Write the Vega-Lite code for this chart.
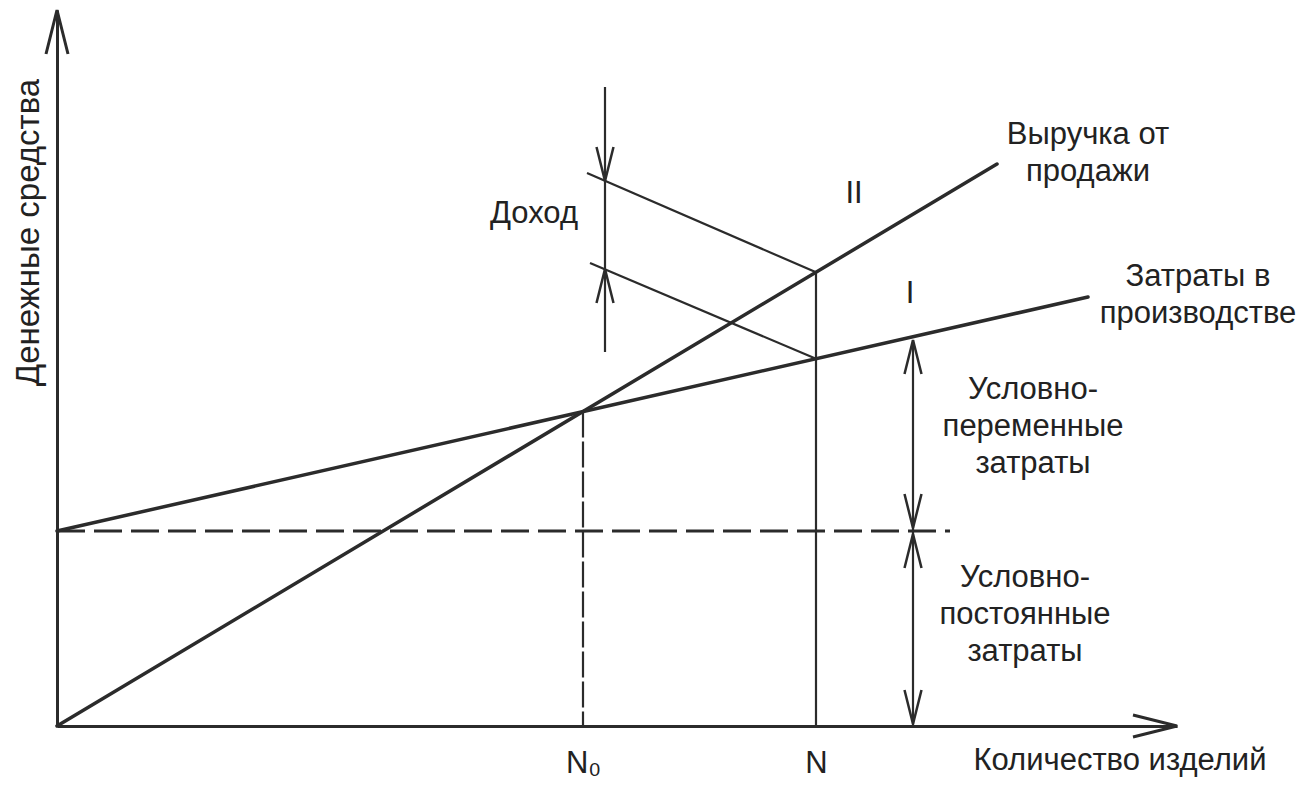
{
  "$schema": "https://vega.github.io/schema/vega-lite/v6.json",
  "width": 1120,
  "height": 716,
  "autosize": {"type": "none"},
  "padding": {"left": 57, "top": 10, "right": 139, "bottom": 61},
  "background": "white",
  "config": {"view": {"stroke": null}, "font": "Liberation Sans"},
  "datasets": {
    "segments": [
      {"line": "revenue", "x": 0, "y": 0, "x2": 94.0, "y2": 56.2},
      {"line": "cost", "x": 0, "y": 19.5, "x2": 103.1, "y2": 42.9},
      {"line": "fixed", "x": 0, "y": 19.5, "x2": 89.3, "y2": 19.5},
      {"line": "n0", "x": 52.6, "y": 31.44, "x2": 52.6, "y2": 0},
      {"line": "n", "x": 75.9, "y": 45.37, "x2": 75.9, "y2": 0},
      {"line": "lead1", "x": 53.0, "y": 55.3, "x2": 75.9, "y2": 45.37},
      {"line": "lead2", "x": 53.3, "y": 46.3, "x2": 75.9, "y2": 36.73},
      {"line": "income", "x": 54.8, "y": 63.9, "x2": 54.8, "y2": 37.4},
      {"line": "dim", "x": 85.6, "y": 38.6, "x2": 85.6, "y2": 0}
    ],
    "arrows": [
      {"role": "axis", "x": 0, "y": 71.6, "dir": "up"},
      {"role": "axis", "x": 112, "y": 0, "dir": "right"},
      {"role": "dim", "x": 54.8, "y": 54.5, "dir": "down"},
      {"role": "dim", "x": 54.8, "y": 45.7, "dir": "up"},
      {"role": "dim", "x": 85.6, "y": 38.6, "dir": "up"},
      {"role": "dim", "x": 85.6, "y": 19.8, "dir": "down"},
      {"role": "dim", "x": 85.6, "y": 19.2, "dir": "up"},
      {"role": "dim", "x": 85.6, "y": 0.2, "dir": "down"}
    ],
    "labels": [
      {"x": 103.1, "y": 59.1, "text": "Выручка от\nпродажи"},
      {"x": 114.1, "y": 44.9, "text": "Затраты в\nпроизводстве"},
      {"x": 47.7, "y": 51.2, "text": "Доход"},
      {"x": 79.7, "y": 53.2, "text": "II"},
      {"x": 85.3, "y": 43.2, "text": "I"},
      {"x": 97.6, "y": 33.6, "text": "Условно-\nпеременные\nзатраты"},
      {"x": 96.8, "y": 14.8, "text": "Условно-\nпостоянные\nзатраты"}
    ]
  },
  "encoding": {
    "x": {
      "field": "x",
      "type": "quantitative",
      "scale": {"domain": [0, 112], "nice": false, "zero": false},
      "axis": {
        "title": "Количество изделий",
        "values": [52.6, 75.9],
        "labelExpr": "datum.value < 60 ? 'N₀' : 'N'",
        "grid": false,
        "ticks": false,
        "tickSize": 0,
        "labelPadding": 22,
        "labelFontSize": 31,
        "labelColor": "#222222",
        "labelFlush": false,
        "labelOverlap": false,
        "domainColor": "#2b2b2b",
        "domainWidth": 3,
        "titleFontSize": 31,
        "titleFontWeight": "normal",
        "titleColor": "#222222",
        "titleX": 916,
        "titleY": 34,
        "titleAlign": "left",
        "titleBaseline": "middle"
      }
    },
    "y": {
      "field": "y",
      "type": "quantitative",
      "scale": {"domain": [0, 71.6], "nice": false, "zero": false},
      "axis": {
        "title": "Денежные средства",
        "labels": false,
        "ticks": false,
        "tickSize": 0,
        "grid": false,
        "domainColor": "#2b2b2b",
        "domainWidth": 3,
        "titleFontSize": 33,
        "titleFontWeight": "normal",
        "titleColor": "#222222",
        "titleX": -29,
        "titleY": 222,
        "titleAngle": 270,
        "titleAlign": "center",
        "titleBaseline": "middle"
      }
    }
  },
  "layer": [
    {
      "data": {"name": "segments"},
      "transform": [{"filter": {"field": "line", "oneOf": ["revenue", "cost"]}}],
      "mark": {"type": "rule", "stroke": "#2b2b2b", "strokeWidth": 3.5, "strokeCap": "round"},
      "encoding": {"x2": {"field": "x2"}, "y2": {"field": "y2"}}
    },
    {
      "data": {"name": "segments"},
      "transform": [{"filter": {"field": "line", "equal": "fixed"}}],
      "mark": {"type": "rule", "stroke": "#2b2b2b", "strokeWidth": 3, "strokeDash": [28, 9]},
      "encoding": {"x2": {"field": "x2"}, "y2": {"field": "y2"}}
    },
    {
      "data": {"name": "segments"},
      "transform": [{"filter": {"field": "line", "equal": "n0"}}],
      "mark": {"type": "rule", "stroke": "#2b2b2b", "strokeWidth": 2.2, "strokeDash": [26, 4]},
      "encoding": {"x2": {"field": "x2"}, "y2": {"field": "y2"}}
    },
    {
      "data": {"name": "segments"},
      "transform": [{"filter": {"field": "line", "oneOf": ["n", "lead1", "lead2", "income", "dim"]}}],
      "mark": {"type": "rule", "stroke": "#2b2b2b", "strokeWidth": 2.2},
      "encoding": {"x2": {"field": "x2"}, "y2": {"field": "y2"}}
    },
    {
      "data": {"name": "arrows"},
      "transform": [{"filter": {"field": "role", "equal": "axis"}}],
      "mark": {"type": "point", "filled": false, "stroke": "#2b2b2b", "strokeWidth": 3, "opacity": 1, "size": 7744},
      "encoding": {
        "shape": {
          "field": "dir",
          "type": "nominal",
          "scale": {
            "domain": ["up", "down", "right"],
            "range": ["M-0.25,1L0,0L0.25,1", "M-0.25,-1L0,0L0.25,-1", "M-1,-0.25L0,0L-1,0.25"]
          },
          "legend": null
        }
      }
    },
    {
      "data": {"name": "arrows"},
      "transform": [{"filter": {"field": "role", "equal": "dim"}}],
      "mark": {"type": "point", "filled": false, "stroke": "#2b2b2b", "strokeWidth": 2.5, "opacity": 1, "size": 4624},
      "encoding": {
        "shape": {
          "field": "dir",
          "type": "nominal",
          "scale": {
            "domain": ["up", "down", "right"],
            "range": ["M-0.25,1L0,0L0.25,1", "M-0.25,-1L0,0L0.25,-1", "M-1,-0.25L0,0L-1,0.25"]
          },
          "legend": null
        }
      }
    },
    {
      "data": {"name": "labels"},
      "mark": {
        "type": "text",
        "font": "Liberation Sans",
        "fontSize": 31,
        "lineHeight": 37,
        "lineBreak": "\n",
        "align": "center",
        "baseline": "middle",
        "color": "#222222"
      },
      "encoding": {"text": {"field": "text"}}
    }
  ]
}
